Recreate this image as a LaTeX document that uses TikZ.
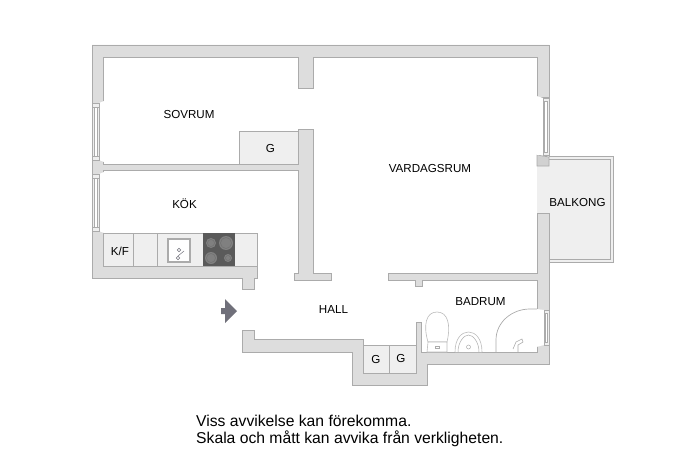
\documentclass[tikz,border=0pt]{standalone}
\usepackage{fontspec}
\setmainfont{Liberation Sans}
\definecolor{wallgray}{HTML}{DDDDDD}
\definecolor{linegray}{HTML}{ABABAB}
\definecolor{floorgray}{HTML}{EFEFEF}
\definecolor{hobgray}{HTML}{5A5A5A}
\definecolor{arrowgray}{HTML}{70707A}
\begin{document}
\begin{tikzpicture}[x=1pt, y=-1pt,
    wall/.style={fill=wallgray, draw=linegray, line width=0.8pt, line join=miter},
    unit/.style={fill=floorgray, draw=linegray, line width=0.7pt},
    fixture/.style={fill=white, draw=linegray!80, line width=0.6pt},
    frame/.style={fill=floorgray, draw=linegray, line width=0.7pt},
    pane/.style={fill=white, draw=linegray, line width=0.5pt},
    label/.style={font=\fontsize{11.6}{13}\selectfont, text=black, inner sep=0pt},
    note/.style={anchor=base west, inner sep=0pt, font=\fontsize{15.7}{17}\selectfont}]
    \useasboundingbox (0,0) rectangle (690,460);
    % Balcony
    \draw[unit, fill=floorgray] (549,156) -- (613,156) -- (613,262) -- (549,262);
    \fill[floorgray] (537,166) rectangle (610,259);
    \draw[linegray, line width=0.7pt] (549,159) -- (610,159) -- (610,259) -- (549,259);
    % Closets and kitchen counter
    \draw[unit] (239,164) rectangle (298,131);
    \draw[unit] (363,345) rectangle (389,373);
    \draw[unit] (389,345) rectangle (416,373);
    \draw[unit] (103.5,233) rectangle (257,266);
    \draw[linegray, line width=0.7pt] (133,233) -- (133,266) (157,233) -- (157,266);
    % Walls
    \draw[wall] (92,45) -- (549,45) -- (549,97) -- (537,97) -- (537,57) -- (313,57) -- (313,88) -- (298,88) -- (298,57)
        -- (103.5,57) -- (103.5,164) -- (298,164) -- (298,129) -- (313,129) -- (313,273) -- (331,273) -- (331,280)
        -- (294,280) -- (294,273) -- (298,273) -- (298,170) -- (103.5,170) -- (103.5,266) -- (257,266) -- (257,278)
        -- (254,278) -- (254,289) -- (242,289) -- (242,278) -- (92,278) -- cycle;
    \draw[wall] (537,213) -- (549,213) -- (549,364) -- (427,364) -- (427,385) -- (352,385) -- (352,352) -- (242,352)
        -- (242,330) -- (254,330) -- (254,339) -- (363,339) -- (363,373) -- (416,373) -- (416,322) -- (421,322)
        -- (421,352) -- (537,352) -- (537,280) -- (422,280) -- (422,286) -- (415,286) -- (415,280) -- (388,280)
        -- (388,273) -- (537,273) -- cycle;
    \draw[wall, fill=linegray!55] (537,155) -- (549,157) -- (549,166) -- (537,166) -- cycle;
    % Windows
    \foreach \wtop/\wbot in {103/160, 174/231} {
        \fill[white] (99,\wtop) -- (104,\wtop-2) -- (104,\wbot+2) -- (99,\wbot) -- cycle;
        \draw[frame] (92,\wtop) rectangle (99,\wbot);
        \draw[pane] (94.5,\wtop+4) rectangle (97,\wbot-4);
        \draw[linegray, line width=0.5pt] (92,\wtop+4) -- (99,\wtop+4) (92,\wbot-4) -- (99,\wbot-4);
    }
    \fill[white] (536.5,96) -- (543,98) -- (543,155) -- (536.5,155) -- cycle;
    \draw[frame] (543,98) rectangle (549,155);
    \draw[pane] (544.5,101) rectangle (547,152);
    \fill[white] (536.5,309) -- (544,310) -- (544,345) -- (536.5,347) -- cycle;
    \draw[frame] (544,310) rectangle (549,345);
    \draw[pane] (545.5,313) rectangle (547.5,342);
    % Kitchen fittings
    \draw[fill=white, draw=linegray, line width=1.2pt] (168,239) rectangle (190,262);
    \draw[arrowgray, line width=0.5pt] (179,250) circle (1.8) (178,258) circle (1.8) (184,251) -- (178,256);
    \fill[hobgray] (203,233) rectangle (235,266);
    \foreach \bx/\by/\br in {211/243/5, 226/243/7, 211/258/6, 228/258/4} {
        \fill[gray] (\bx,\by) circle (\br);
        \draw[gray!60!hobgray, line width=0.5pt] (\bx,\by) circle (\br-1.5);
    }
    % Bathroom fittings
    \draw[fixture] (428,342) .. controls (423,325) and (426,312) .. (437,312) .. controls (448,312) and (451,325) .. (447,342) -- cycle;
    \draw[fixture] (428,342) -- (447,342) -- (447,352) -- (427,352) -- cycle;
    \draw[linegray, line width=0.5pt] (435,346) rectangle (439,348);
    \draw[fixture] (455,352) .. controls (455,338) and (462,332) .. (468.5,332) .. controls (475,332) and (482,338) .. (482,352);
    \draw[linegray, line width=0.5pt] (458,352) .. controls (458,342) and (464,335) .. (468.5,335) .. controls (473,335) and (479,342) .. (479,352);
    \draw[linegray, line width=0.5pt] (468.5,347) circle (2);
    \draw[linegray, line width=0.7pt] (496,352) -- (496,340) .. controls (496,322) and (512,309) .. (530,309) -- (537,309);
    \draw[linegray, line width=0.6pt] (513,349) -- (516,342) -- (522,339) -- (523,342) -- (518,345) -- (518,352);
    % Arrow
    \fill[arrowgray] (221,308) -- (225,308) -- (225,299) -- (237,311) -- (225,323) -- (225,314) -- (221,314) -- cycle;
    % Labels
    \node[label] (sovrum) at (189,115) {SOVRUM};
    \node[label] (gsov) at (270.5,149) {G};
    \node[label] (vardagsrum) at (430,168.5) {VARDAGSRUM};
    \node[label] (kok) at (184.5,204) {KÖK};
    \node[label] (kf) at (120,251) {K/F};
    \node[label] (balkong) at (577.5,203) {BALKONG};
    \node[label] (hall) at (333.5,310) {HALL};
    \node[label] (badrum) at (480.5,302) {BADRUM};
    \node[label] (gleft) at (376,360) {G};
    \node[label] (gright) at (401,359) {G};
    % Disclaimer
    \node[note] (note1) at (196,426) {Viss avvikelse kan förekomma.};
    \node[note] (note2) at (196,443) {Skala och mått kan avvika från verkligheten.};
\end{tikzpicture}
\end{document}
